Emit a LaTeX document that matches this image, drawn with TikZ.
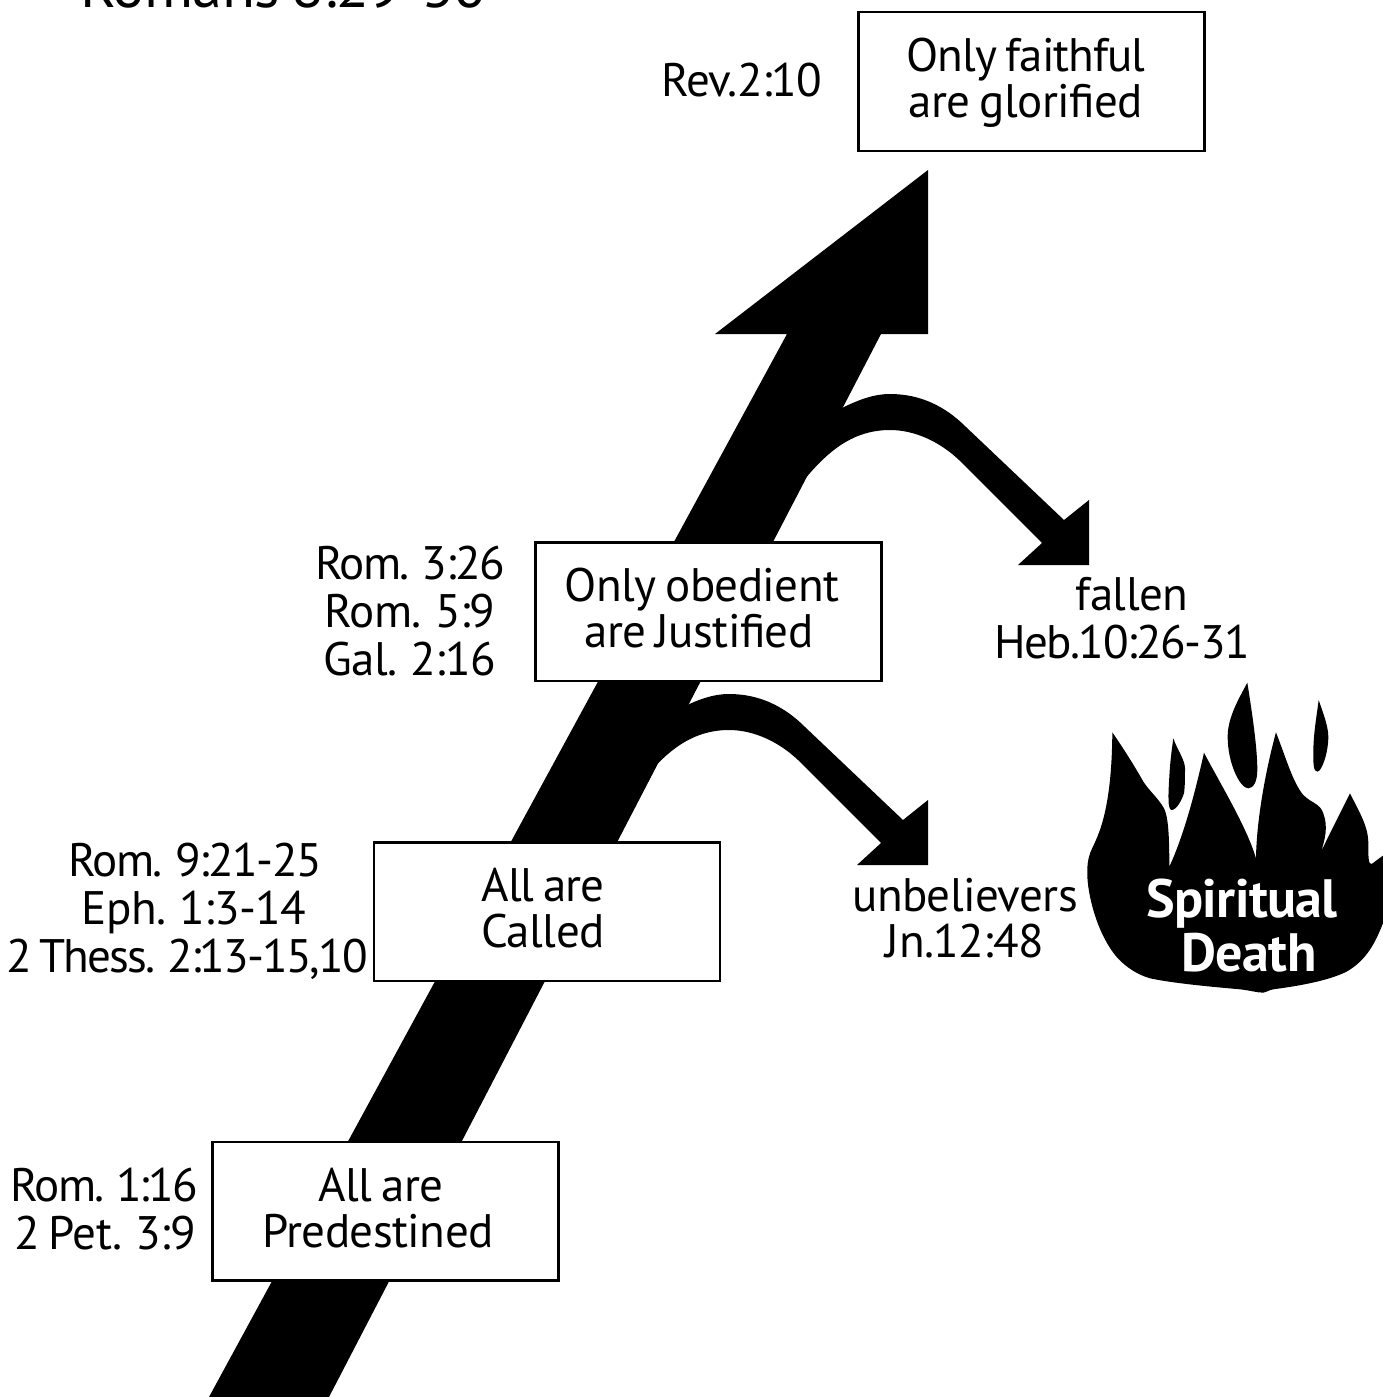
\documentclass[tikz,border=0pt]{standalone}
\usepackage{fontspec}
\setmainfont[LetterSpace=-1.2,WordSpace=0.75]{PT Sans}
\newcommand{\tightA}{\addfontfeatures{LetterSpace=-2.2}}
\newcommand{\tightB}{\addfontfeatures{LetterSpace=-3.0}}
\newcommand{\tightC}{\addfontfeatures{LetterSpace=-3.9}}
\tikzset{
  reflabel/.style={inner sep=0pt,align=center,font=\fontsize{47}{48}\selectfont},
  boxtext/.style={inner sep=0pt,align=center,font=\fontsize{47}{46}\selectfont},
  stagebox/.style={draw=black,line width=2.5pt,fill=white,inner sep=0pt,minimum width=346pt,minimum height=138.5pt},
  blackshape/.style={fill=black,draw=none}
}
\begin{document}
\begin{tikzpicture}[x=1pt,y=-1pt]
\useasboundingbox (0,0) rectangle (1383,1397);
% main arrow
\fill[blackshape] (209,1397) -- (787,334) -- (715,334) -- (928,170) -- (928,334) -- (881,334) -- (329,1397) -- cycle;
% side arrows
\foreach \dx/\dy in {0/0,-161/300}{
\begin{scope}[shift={(\dx,\dy)}]
\fill[blackshape] (842,408) .. controls (860,399) and (875,394) .. (890,394)
  .. controls (920,394) and (945,406) .. (966,427) -- (1064,520) -- (1089,500) -- (1089,565) -- (1018,565) -- (1042,543)
  -- (959,460) .. controls (940,442) and (915,430) .. (890,430)
  .. controls (850,430) and (825,455) .. (804,480) -- (790,480) -- cycle;
\end{scope}}
% flame
\begin{scope}[shift={(1060,670)},x=0.3333pt,y=-0.3333pt]
\fill[blackshape] (157,187) .. controls (190,235) and (225,290) .. (250,335)
 .. controls (270,365) and (295,385) .. (312,415)
 .. controls (325,440) and (328,500) .. (328,590)
 .. controls (370,500) and (405,370) .. (432,248)
 .. controls (480,340) and (560,470) .. (588,565)
 .. controls (590,440) and (620,290) .. (648,187)
 .. controls (680,270) and (700,340) .. (730,375)
 .. controls (755,400) and (780,400) .. (790,430)
 .. controls (805,470) and (795,510) .. (783,545)
 .. controls (810,490) and (845,420) .. (870,370)
 .. controls (900,430) and (925,470) .. (925,520)
 .. controls (925,560) and (925,585) .. (935,582)
 -- (985,545) -- (985,700) -- (969,760)
 .. controls (945,820) and (920,870) .. (860,905)
 .. controls (800,935) and (700,950) .. (640,958)
 .. controls (625,960) and (620,968) .. (610,968)
 .. controls (590,968) and (575,962) .. (540,958)
 .. controls (450,950) and (340,940) .. (270,925)
 .. controls (220,910) and (185,880) .. (165,855)
 .. controls (130,810) and (105,750) .. (90,680)
 .. controls (82,640) and (76,590) .. (90,550)
 .. controls (105,510) and (155,450) .. (157,187) -- cycle;
\fill[blackshape] (562,38) .. controls (575,120) and (592,230) .. (592,300)
 .. controls (592,335) and (580,355) .. (565,355)
 .. controls (540,355) and (503,280) .. (503,200)
 .. controls (503,140) and (540,80) .. (562,38) -- cycle;
\fill[blackshape] (776,90) .. controls (790,130) and (805,170) .. (805,200)
 .. controls (805,250) and (785,305) .. (772,305)
 .. controls (760,305) and (760,280) .. (760,250)
 .. controls (760,190) and (770,140) .. (776,90) -- cycle;
\fill[blackshape] (340,205) .. controls (352,240) and (375,270) .. (375,295)
 .. controls (375,320) and (375,350) .. (372,370)
 .. controls (365,390) and (350,420) .. (335,420)
 .. controls (322,420) and (325,370) .. (328,320)
 .. controls (330,280) and (335,240) .. (340,205) -- cycle;
\end{scope}
% boxes
\node[stagebox] (glorified) at (1031.5,81.5) {};
\node[stagebox] (justified) at (708.5,611.5) {};
\node[stagebox] (called) at (547,911.5) {};
\node[stagebox] (predestined) at (385.5,1211) {};
\node[boxtext] (glorifiedtext) at (1026,83) {\tightA Only faithful\\are glorified};
\node[boxtext] (justifiedtext) at (702,608) {Only obedient\\are Justified\hspace*{6pt}};
\node[boxtext] (calledtext) at (543,908) {\tightA All are\\Called};
\node[boxtext] (predestinedtext) at (378,1208) {\hspace*{6pt}All are\\Predestined};
% references
\node[reflabel] (rev) at (742,80) {Rev.2:10};
\node[reflabel] (rom3) at (410,611) {\tightB Rom. 3:26\\Rom. 5:9\\Gal. 2:16};
\node[reflabel] (rom9) at (187,911) {\tightB\hspace*{16pt}Rom. 9:21-25\\\hspace*{14pt}Eph. 1:3-14\\{\tightC 2 Thess. 2:13-15,10}};
\node[reflabel,align=right,anchor=east] (rom1) at (198,1209) {\tightC Rom. 1:16\\2 Pet. 3:9\hspace*{2pt}};
\node[reflabel] (fallen) at (1122,618) {\hspace*{20pt}fallen\\{\tightB Heb.10:26-31}};
\node[reflabel,font=\fontsize{47}{46}\selectfont] (unbel) at (965,918) {unbelievers\\Jn.12:48};
\node[inner sep=0pt,align=center,text=white,font=\bfseries\fontsize{54}{54}\selectfont] (death) at (1242,926) {Spiritual\\\hspace*{14pt}Death};
% clipped title
\node[inner sep=0pt,anchor=base west,font=\fontsize{60.5}{61}\selectfont] (title) at (80,7.5) {Romans 8:29-30};
\end{tikzpicture}
\end{document}
